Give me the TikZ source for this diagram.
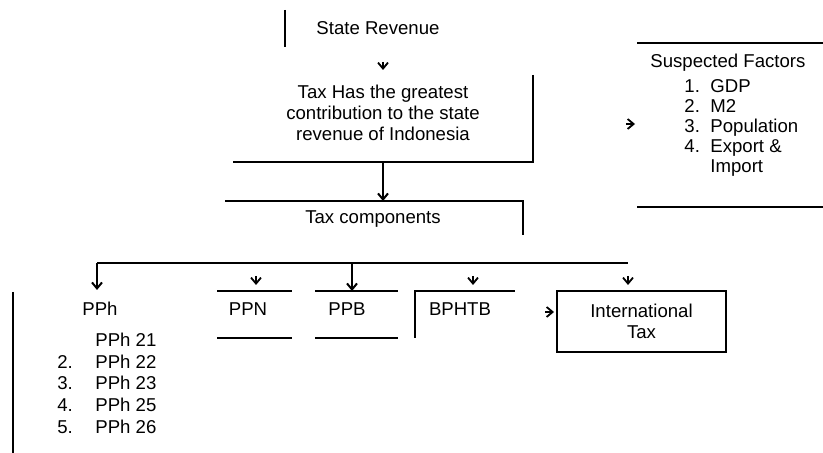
\documentclass[tikz,border=0pt]{standalone}
\usepackage{fontspec}
\setmainfont{Liberation Sans}
\usetikzlibrary{arrows.meta}
\begin{document}
\begin{tikzpicture}[x=0.5pt,y=-0.5pt,
  every node/.style={inner sep=0pt, font=\fontsize{9.3}{10.5}\selectfont},
  rule/.style={line width=1pt},
  tipline/.style={line width=1pt,-{Straight Barb[length=3pt,width=5pt]}},
  lonetip/.style={line width=0.9pt,-{Straight Barb[length=3pt,width=5pt]}},
  item/.style={anchor=base west}]
\useasboundingbox (0,0) rectangle (823,453);

% --- state revenue ---
\node (rev) at (378,28) {State Revenue};
\coordinate (revT) at (285,10);
\coordinate (revB) at (285,47);
\draw[rule] (revT) -- (revB);
\coordinate (revTipA) at (383,62);
\coordinate (revTipB) at (383,70);
\draw[lonetip] (revTipA) -- (revTipB);

% --- tax contribution ---
\node[align=center] (tax) at (383,113) {Tax Has the greatest\\contribution to the state\\revenue of Indonesia};
\coordinate (taxNE) at (533,75);
\coordinate (taxSE) at (533,162);
\coordinate (taxSW) at (233,162);
\draw[rule] (taxNE) -- (taxSE) -- (taxSW);
\coordinate (taxOut) at (383,162);
\coordinate (compIn) at (383,201);
\draw[tipline] (taxOut) -- (compIn);

% --- tax components ---
\node (comp) at (373,219) {Tax components};
\coordinate (compNW) at (225,201);
\coordinate (compNE) at (523,201);
\coordinate (compSE) at (523,235);
\draw[rule] (compNW) -- (compNE) -- (compSE);

% --- distribution bus ---
\coordinate (busW) at (97,263);
\coordinate (busE) at (628,263);
\draw[rule] (busW) -- (busE);

% --- PPh ---
\coordinate (pphIn) at (97,290);
\draw[tipline] (busW) -- (pphIn);
\node[anchor=base] (pph) at (100,316) {PPh};
\node[item] (p1) at (95,347) {PPh 21};
\node[item] (n2) at (57,368.5) {2.};
\node[item] (p2) at (95,368.5) {PPh 22};
\node[item] (n3) at (57,390) {3.};
\node[item] (p3) at (95,390) {PPh 23};
\node[item] (n4) at (57,411.5) {4.};
\node[item] (p4) at (95,411.5) {PPh 25};
\node[item] (n5) at (57,433) {5.};
\node[item] (p5) at (95,433) {PPh 26};
\coordinate (pphLT) at (13,292);
\coordinate (pphLB) at (13,453);
\draw[rule] (pphLT) -- (pphLB);

% --- PPN ---
\coordinate (ppnTipA) at (256,276);
\coordinate (ppnTipB) at (256,285);
\draw[lonetip] (ppnTipA) -- (ppnTipB);
\coordinate (ppnNW) at (217,291);
\coordinate (ppnNE) at (292,291);
\coordinate (ppnSW) at (217,338);
\coordinate (ppnSE) at (292,338);
\draw[rule] (ppnNW) -- (ppnNE);
\draw[rule] (ppnSW) -- (ppnSE);
\node (ppn) at (248,309) {PPN};

% --- PPB ---
\coordinate (ppbBus) at (352,263);
\coordinate (ppbIn) at (352,291);
\draw[tipline] (ppbBus) -- (ppbIn);
\coordinate (ppbNW) at (315,291);
\coordinate (ppbNE) at (398,291);
\coordinate (ppbSW) at (315,338);
\coordinate (ppbSE) at (398,338);
\draw[rule] (ppbNW) -- (ppbNE);
\draw[rule] (ppbSW) -- (ppbSE);
\node (ppb) at (347,309) {PPB};

% --- BPHTB ---
\coordinate (bphTipA) at (473,276);
\coordinate (bphTipB) at (473,285);
\draw[lonetip] (bphTipA) -- (bphTipB);
\coordinate (bphNW) at (415,291);
\coordinate (bphNE) at (515,291);
\coordinate (bphSW) at (415,338);
\draw[rule] (bphSW) -- (bphNW) -- (bphNE);
\node (bph) at (460,309) {BPHTB};

% --- international tax ---
\node[draw, rule, align=center, minimum width=84.5pt, minimum height=30.5pt] (intl) at (641.5,321.5) {International\\Tax};
\coordinate (intlTipA) at (628,276);
\coordinate (intlTipB) at (628,285);
\draw[lonetip] (intlTipA) -- (intlTipB);
\coordinate (intlSideA) at (545,312);
\coordinate (intlSideB) at (554,312);
\draw[lonetip] (intlSideA) -- (intlSideB);

% --- suspected factors ---
\coordinate (sfNW) at (637,43);
\coordinate (sfNE) at (823,43);
\coordinate (sfSW) at (637,207);
\coordinate (sfSE) at (823,207);
\draw[rule] (sfNW) -- (sfNE);
\draw[rule] (sfSW) -- (sfSE);
\coordinate (sfTipA) at (626,124);
\coordinate (sfTipB) at (635,124);
\draw[lonetip] (sfTipA) -- (sfTipB);
\node[item] (sf) at (650,68) {Suspected Factors};
\node[item] (s1n) at (684,93) {1.};
\node[item] (s1) at (710,93) {GDP};
\node[item] (s2n) at (684,113) {2.};
\node[item] (s2) at (710,113) {M2};
\node[item] (s3n) at (684,133) {3.};
\node[item] (s3) at (710,133) {Population};
\node[item] (s4n) at (684,153) {4.};
\node[item] (s4) at (710,153) {Export \&};
\node[item] (s4b) at (710,173) {Import};
\end{tikzpicture}
\end{document}
